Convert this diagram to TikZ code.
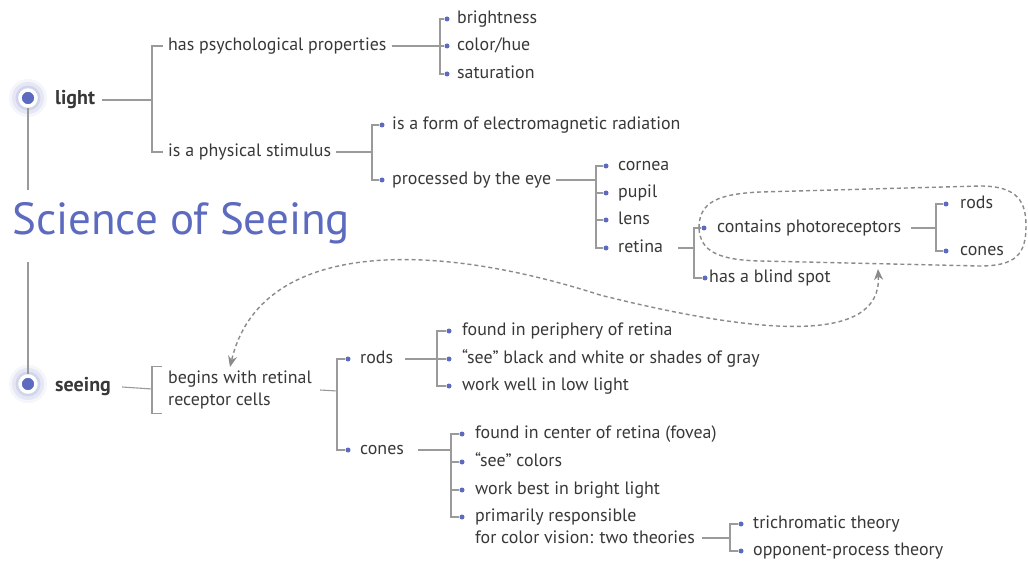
\documentclass[tikz,border=0pt]{standalone}
\usepackage{fontspec}
\setmainfont{PT Sans}
\usetikzlibrary{arrows.meta}
\definecolor{blu}{HTML}{5C6BC0}
\definecolor{lnc}{HTML}{9A9A9A}
\definecolor{txt}{HTML}{383838}
\definecolor{dshc}{HTML}{8A8A8A}
\begin{document}
\begin{tikzpicture}[x=1pt,y=-1pt,
  t/.style={anchor=west,inner xsep=5pt,inner ysep=0pt,text height=13pt,text depth=4pt,font=\fontsize{17.9}{22}\selectfont,text=txt},
  tt/.style={anchor=west,inner xsep=5pt,inner ysep=0pt,align=left,font=\fontsize{17.9}{22}\selectfont,text=txt},
  bt/.style={t,font=\fontsize{20}{24}\selectfont\bfseries},
  dot/.style={circle,fill=blu,inner sep=0pt,minimum size=5pt},
  ln/.style={draw=lnc,line width=1.1pt},
  dsh/.style={draw=dshc,line width=1.4pt,dash pattern=on 4pt off 3pt},
  hub/.style={circle,fill=blu,draw=white,line width=3.5pt,minimum size=16pt,inner sep=0pt},
]
\useasboundingbox[fill=white] (0,0) rectangle (1028,561);

% hubs and spine
\fill[blu,opacity=.06] (28,98) circle (19pt);
\fill[blu,opacity=.10] (28,98) circle (16pt);
\fill[blu,opacity=.14] (28,98) circle (12.5pt);
\node[hub] (lh) at (28,98) {};
\fill[blu,opacity=.06] (28,384) circle (19pt);
\fill[blu,opacity=.10] (28,384) circle (16pt);
\fill[blu,opacity=.14] (28,384) circle (12.5pt);
\node[hub] (sh) at (28,384) {};
\node[anchor=west,inner sep=0pt,font=\fontsize{45}{54}\selectfont,text=blu] (title) at (12,223) {Science of Seeing};
\coordinate (v1) at (28,190);
\coordinate (v2) at (28,262);
\draw[ln] (lh) -- (v1);
\draw[ln] (v2) -- (sh);

% light branch
\node[bt] (light) at (50,100) {light};
\node[t] (psy) at (163,46) {has psychological properties};
\node[t] (phys) at (163,152) {is a physical stimulus};
\coordinate (j0) at (152,100);
\draw[ln] ([xshift=2pt]light.east) -- (j0);
\draw[ln] (j0) |- (psy.west);
\draw[ln] (j0) |- (phys.west);

\coordinate (j1) at (440,46);
\node[dot] (d11) at (447,19) {};
\node[dot] (d12) at (447,46) {};
\node[dot] (d13) at (447,74) {};
\node[t] (n11) at (452,19) {brightness};
\node[t] (n12) at (452,46) {color/hue};
\node[t] (n13) at (452,74) {saturation};
\draw[ln] (psy.east) -- (j1) -- (d12);
\draw[ln] (j1) |- (d11);
\draw[ln] (j1) |- (d13);

\coordinate (j2) at (372,152);
\node[dot] (d21) at (382,125) {};
\node[dot] (d22) at (382,180) {};
\node[t] (n21) at (387,125) {is a form of electromagnetic radiation};
\node[t] (n22) at (387,180) {processed by the eye};
\draw[ln] (phys.east) -- (j2);
\draw[ln] (j2) |- (d21);
\draw[ln] (j2) |- (d22);

\coordinate (j3) at (596,180);
\node[dot] (d31) at (606,166) {};
\node[dot] (d32) at (606,193) {};
\node[dot] (d33) at (606,220) {};
\node[dot] (d34) at (606,248) {};
\node[t] (n31) at (613,166) {cornea};
\node[t] (n32) at (613,193) {pupil};
\node[t] (n33) at (613,220) {lens};
\node[t] (n34) at (613,248) {retina};
\draw[ln] (n22.east) -- (j3);
\draw[ln] (j3) |- (d31);
\draw[ln] (j3) |- (d32);
\draw[ln] (j3) |- (d33);
\draw[ln] (j3) |- (d34);

\coordinate (j4) at (694,248);
\node[dot] (d41) at (704,228) {};
\node[dot] (d42) at (705,278) {};
\node[t] (n41) at (712,228) {contains photoreceptors};
\node[t,inner xsep=2pt] (n42) at (707,278) {has a blind spot};
\draw[ln] ([xshift=10pt]n34.east) -- (j4);
\draw[ln] (j4) |- (d41);
\draw[ln] (j4) |- (d42);

\coordinate (j5) at (936,228);
\node[dot] (d51) at (946,204) {};
\node[dot] (d52) at (946,251) {};
\node[t] (n51) at (955,204) {rods};
\node[t] (n52) at (955,251) {cones};
\draw[ln] ([xshift=5pt]n41.east) -- (j5);
\draw[ln] (j5) |- (d51);
\draw[ln] (j5) |- (d52);

% dashed outline around photoreceptors
\draw[dsh] (699,228) .. controls (699,202) and (718,194) .. (760,192)
  -- (980,186) .. controls (1018,186) and (1026,202) .. (1026,226)
  .. controls (1026,254) and (1016,266) .. (980,266)
  -- (760,261) .. controls (720,260) and (700,252) .. (699,228);

% seeing branch
\node[bt] (seeing) at (50,387) {seeing};
\node[tt,inner ysep=1pt] (begins) at (163,390) {\strut begins with retinal\\\strut receptor cells};
\coordinate (j6) at (152,389);
\draw[ln] ([xshift=6pt]seeing.east) -- (j6);
\draw[ln] ([xshift=-1pt]begins.north west) -| (j6) |- ([xshift=-1pt]begins.south west);

\coordinate (j7) at (337,391);
\node[dot] (d71) at (348,359) {};
\node[dot] (d72) at (348,450) {};
\node[t] (n71) at (355,359) {rods};
\node[t] (n72) at (355,450) {cones};
\draw[ln] ([xshift=3pt]begins.east) -- (j7);
\draw[ln] (j7) |- (d71);
\draw[ln] (j7) |- (d72);

\coordinate (j8) at (437,359);
\node[dot] (d81) at (449,331) {};
\node[dot] (d82) at (449,359) {};
\node[dot] (d83) at (449,386) {};
\node[t] (n81) at (457,331) {found in periphery of retina};
\node[t] (n82) at (457,359) {“see” black and white or shades of gray};
\node[t] (n83) at (457,386) {work well in low light};
\draw[ln] ([xshift=7pt]n71.east) -- (j8) -- (d82);
\draw[ln] (j8) |- (d81);
\draw[ln] (j8) |- (d83);

\coordinate (j9) at (451,450);
\node[dot] (d91) at (462,434) {};
\node[dot] (d92) at (462,462) {};
\node[dot] (d93) at (462,490) {};
\node[dot] (d94) at (462,517) {};
\node[t] (n91) at (470,434) {found in center of retina (fovea)};
\node[t] (n92) at (470,462) {“see” colors};
\node[t] (n93) at (470,490) {work best in bright light};
\node[tt] (n94) at (470,528) {\strut primarily responsible\\\strut for color vision: two theories};
\draw[ln] ([xshift=9pt]n72.east) -- (j9);
\draw[ln] (j9) |- (d91);
\draw[ln] (j9) |- (d92);
\draw[ln] (j9) |- (d93);
\draw[ln] (j9) |- (d94);

\coordinate (j10) at (730,538);
\node[dot] (d101) at (741,524) {};
\node[dot] (d102) at (741,551) {};
\node[t] (n101) at (748,524) {trichromatic theory};
\node[t] (n102) at (748,551) {opponent-process theory};
\draw[ln] ([xshift=2pt]n94.east |- j10) -- (j10);
\draw[ln] (j10) |- (d101);
\draw[ln] (j10) |- (d102);

% dashed double arrow
\coordinate (atop) at (878,269);
\coordinate (abot) at (230,367);
\draw[dsh,{Stealth[length=11pt,width=9pt]}-{Stealth[length=11pt,width=9pt]}] (atop) .. controls (882,345) and (760,335) .. (600,295) .. controls (430,240) and (260,240) .. (abot);
\end{tikzpicture}
\end{document}
